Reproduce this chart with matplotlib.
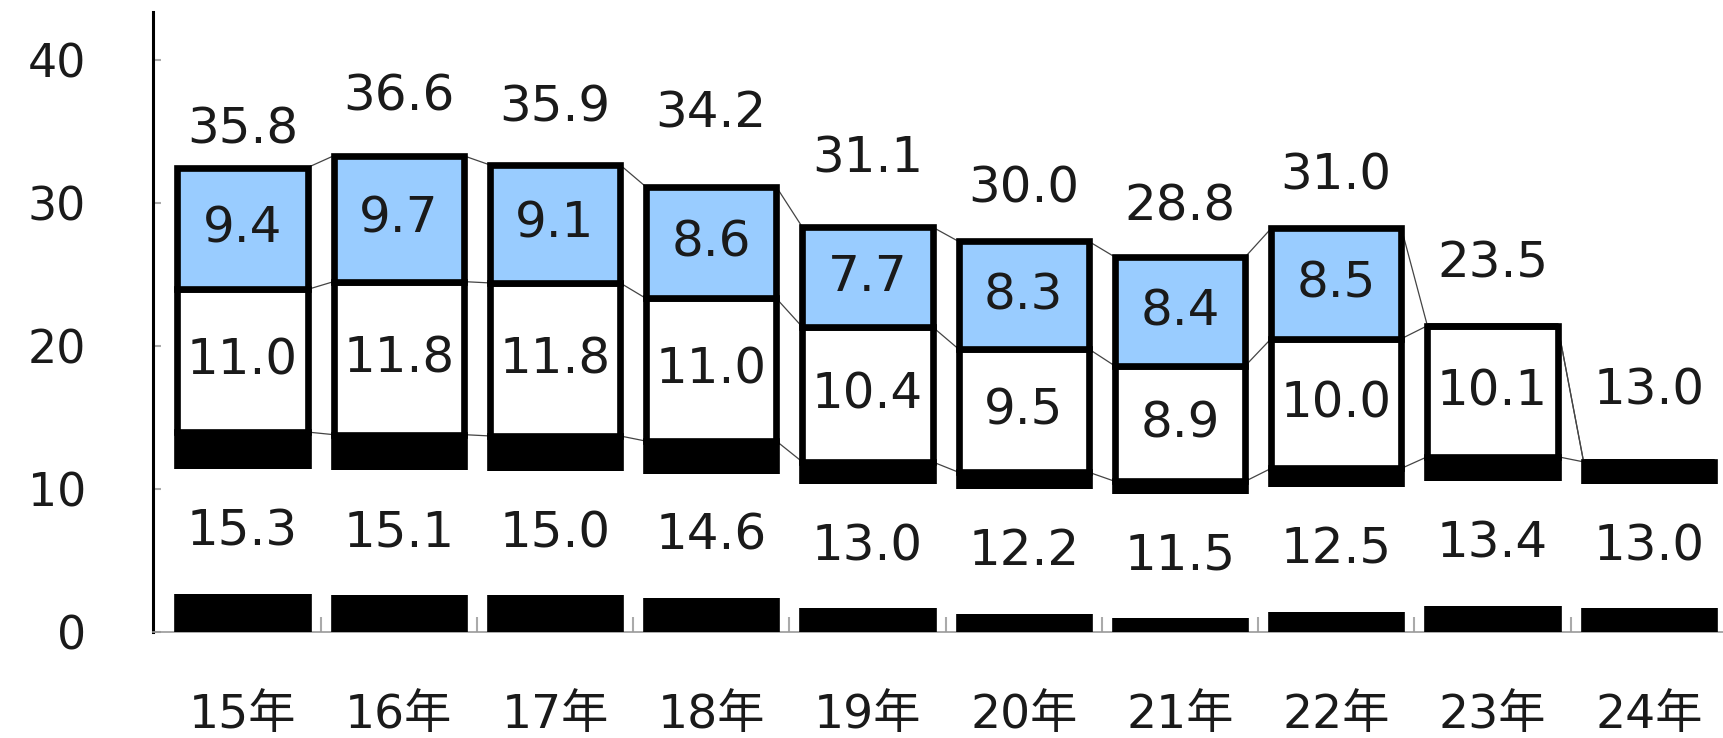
import numpy as np
import matplotlib.pyplot as plt

# 日本語の「年」用にCJKフォントをフォールバックに入れる
plt.rcParams['font.family'] = ['DejaVu Sans', 'Noto Sans CJK JP']

# データ
years = ['15年', '16年', '17年', '18年', '19年', '20年', '21年', '22年', '23年', '24年']
bottom_vals = [15.3, 15.1, 15.0, 14.6, 13.0, 12.2, 11.5, 12.5, 13.4, 13.0]
middle_vals = [11.0, 11.8, 11.8, 11.0, 10.4, 9.5, 8.9, 10.0, 10.1, 0]
top_vals = [9.4, 9.7, 9.1, 8.6, 7.7, 8.3, 8.4, 8.5, 0, 0]
totals = [35.8, 36.6, 35.9, 34.2, 31.1, 30.0, 28.8, 31.0, 23.5, 13.0]
yticks = [0, 10, 20, 30, 40]

# 合計ラベルの持ち上げ量 (pt) -- 元図のラベル位置がばらばらなので個別に
total_lift = [17, 33, 31, 43, 39, 28, 26, 28, 35, 41]

x = np.arange(len(years))
bottom = np.array(bottom_vals)
middle = np.array(middle_vals)
top = np.array(top_vals)
lvl0 = bottom
lvl1 = bottom + middle
lvl2 = bottom + middle + top

W = 0.834          # 棒の幅
EDGE = 4.8         # 枠線の太さ (pt)
BOX_H = 9.6        # 下段ラベルの白い背景の高さ (棒の軸の単位)
FS = 36            # データラベルの文字サイズ
txt_color = '#1a1a1a'
blue = '#99ccff'

fig = plt.figure(figsize=(17.23, 7.38), dpi=100)
ax = fig.add_axes([0.0886, 0.1436, 0.9114, 0.8401])
ax.set_xlim(-0.575, 9.475)
ax.set_ylim(0, 43.36)

# 見える左軸
ax.set_yticks(yticks)
ax.tick_params(axis='y', direction='in', length=6, width=1.5, color='#aaaaaa',
               labelsize=33, labelcolor=txt_color, pad=48)
ax.set_xticks(x)
ax.set_xticklabels(years)
ax.set_xticks(x[:-1] + 0.5, minor=True)
ax.tick_params(axis='x', which='major', length=0, labelsize=34,
               labelcolor=txt_color, pad=44)
ax.tick_params(axis='x', which='minor', direction='in', length=11, width=1.5,
               color='#aaaaaa')
for s in ['top', 'right']:
    ax.spines[s].set_visible(False)
ax.spines['left'].set_linewidth(2.2)
ax.spines['left'].set_color('black')
ax.spines['bottom'].set_linewidth(1.2)
ax.spines['bottom'].set_color('#999999')

# 棒は別スケールの隠れ軸に描く (元図で棒と目盛がずれているため)
axb = ax.twinx()
axb.set_ylim(-0.12, 47.69)
axb.axis('off')

# 区分線
for lv in [lvl0, lvl1, lvl2]:
    for i in range(len(x) - 1):
        axb.plot([x[i] + W / 2, x[i + 1] - W / 2], [lv[i], lv[i + 1]],
                 color='#444444', lw=0.9, zorder=1)

axb.bar(x, bottom, W, color='black', edgecolor='black', linewidth=EDGE, zorder=2)
axb.bar(x, middle, W, bottom=lvl0, color='white', edgecolor='black',
        linewidth=EDGE, zorder=2)
axb.bar(x, top, W, bottom=lvl1, color=blue, edgecolor='black',
        linewidth=EDGE, zorder=2)

# 下段ラベルの白背景
axb.bar(x, BOX_H, W + 0.08, bottom=bottom / 2 - BOX_H / 2, color='white',
        linewidth=0, zorder=3)

for i in range(len(x)):
    axb.text(x[i], bottom[i] / 2, f'{bottom_vals[i]:.1f}', ha='center', va='center',
             fontsize=FS, color=txt_color, zorder=4)
    if middle_vals[i] > 0:
        axb.text(x[i], lvl0[i] + middle[i] / 2, f'{middle_vals[i]:.1f}', ha='center',
                 va='center', fontsize=FS, color=txt_color, zorder=4)
    if top_vals[i] > 0:
        axb.text(x[i], lvl1[i] + top[i] / 2, f'{top_vals[i]:.1f}', ha='center',
                 va='center', fontsize=FS, color=txt_color, zorder=4)
    axb.annotate(f'{totals[i]:.1f}', (x[i], lvl2[i]), xytext=(0, total_lift[i]),
                 textcoords='offset points', ha='center', va='baseline',
                 fontsize=FS, color=txt_color, zorder=4)

fig.savefig('out.png', dpi=100)
